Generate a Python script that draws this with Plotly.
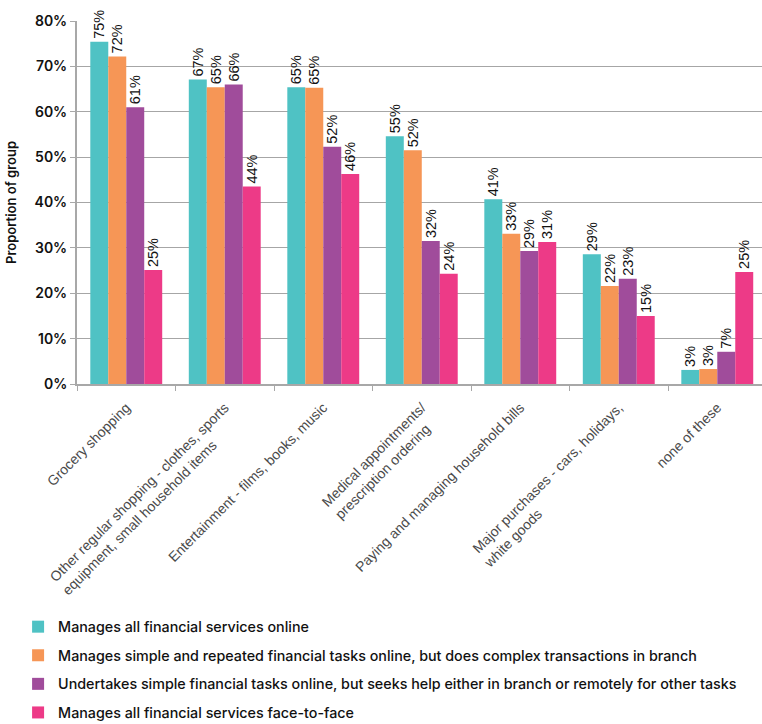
import plotly.graph_objects as go

categories = [
    "Grocery shopping",
    "Other regular shopping - clothes, sports<br>equipment, small household items",
    "Entertainment - films, books, music",
    "Medical appointments/<br>prescription ordering",
    "Paying and managing household bills",
    "Major purchases - cars, holidays,<br>white goods",
    "none of these",
]

series_names = [
    "Manages all financial services online",
    "Manages simple and repeated financial tasks online, but does complex transactions in branch",
    "Undertakes simple financial tasks online, but seeks help either in branch or remotely for other tasks",
    "Manages all financial services face-to-face",
]

online_all = [0.754, 0.671, 0.654, 0.546, 0.407, 0.286, 0.031]
online_simple = [0.722, 0.654, 0.653, 0.515, 0.331, 0.216, 0.033]
online_help = [0.610, 0.660, 0.523, 0.315, 0.293, 0.232, 0.071]
face_to_face = [0.251, 0.435, 0.463, 0.243, 0.313, 0.150, 0.247]

series_values = [online_all, online_simple, online_help, face_to_face]
series_colors = ["#4fc2c4", "#f69656", "#a04c9b", "#ed3a87"]

y_ticks = [0, 0.1, 0.2, 0.3, 0.4, 0.5, 0.6, 0.7, 0.8]

# Approximate Arial/Liberation Sans advance widths (per 1000 em) used to
# left-align the lines of wrapped category labels.
_W = {" ": 278, ",": 278, "-": 333, "/": 278, ".": 278}
_W.update({c: 556 for c in "abdeghnopqu"})
_W.update({c: 500 for c in "cksvxyz"})
_W.update({"f": 278, "t": 278, "i": 222, "j": 222, "l": 222, "r": 333, "m": 833, "w": 722})
_W.update({"O": 778, "M": 833, "E": 667, "P": 667, "G": 778})


def _width(s):
    return sum(_W.get(c, 556) for c in s)


def left_align(label):
    lines = label.split("<br>")
    longest = max(_width(l) for l in lines)
    out = []
    for l in lines:
        pad = round((longest - _width(l)) / 278)
        out.append(l + "\u00a0" * pad)
    return "<br>".join(out)


tick_text = [left_align(c) for c in categories]

fig = go.Figure()
for i, (name, vals, col) in enumerate(zip(series_names, series_values, series_colors)):
    fig.add_trace(go.Bar(
        x=categories,
        y=vals,
        name=name,
        marker=dict(color=col, line=dict(width=0)),
        text=vals,
        texttemplate="%{y:.0%}",
        textposition="outside",
        textangle=-90,
        constraintext="none",
        cliponaxis=False,
        textfont=dict(family="Liberation Sans, Arial, sans-serif", size=14.5, color="#111"),
        legendgroup=f"g{i}",
    ))

fig.update_layout(
    width=762,
    height=724,
    margin=dict(l=77, r=0, t=21, b=340, autoexpand=False),
    paper_bgcolor="white",
    plot_bgcolor="white",
    barmode="group",
    bargap=0.27,
    bargroupgap=0,
    showlegend=True,
    legend=dict(
        orientation="v",
        x=-0.086,
        xanchor="left",
        y=-0.625,
        yanchor="top",
        font=dict(family="Inter, sans-serif", size=14.3, color="#111", weight=500),
        itemwidth=30,
        tracegroupgap=7,
        bgcolor="rgba(0,0,0,0)",
    ),
    xaxis=dict(
        range=[-0.5, 6.454],
        tickmode="array",
        tickvals=categories,
        ticktext=tick_text,
        tickangle=-45,
        tickson="boundaries",
        ticks="outside",
        ticklen=5,
        tickcolor="#a8a8a8",
        ticklabelstandoff=8,
        showline=True,
        linecolor="#a8a8a8",
        linewidth=2,
        tickfont=dict(family="Liberation Sans, Arial, sans-serif", size=14, color="#4a4a4a"),
        showgrid=False,
    ),
    yaxis=dict(
        range=[0, 0.8],
        tickvals=y_ticks,
        tickformat=".0%",
        ticks="outside",
        ticklen=5,
        tickcolor="#a8a8a8",
        showline=True,
        linecolor="#a8a8a8",
        linewidth=2,
        showgrid=True,
        gridcolor="#a6a6a6",
        gridwidth=1,
        zeroline=False,
        tickfont=dict(family="Inter, sans-serif", size=14, color="#111", weight=600),
        title=dict(text="Proportion of group",
                   font=dict(family="Inter, sans-serif", size=13, color="#111", weight=600)),
    ),
)

fig.write_html("out.html")
